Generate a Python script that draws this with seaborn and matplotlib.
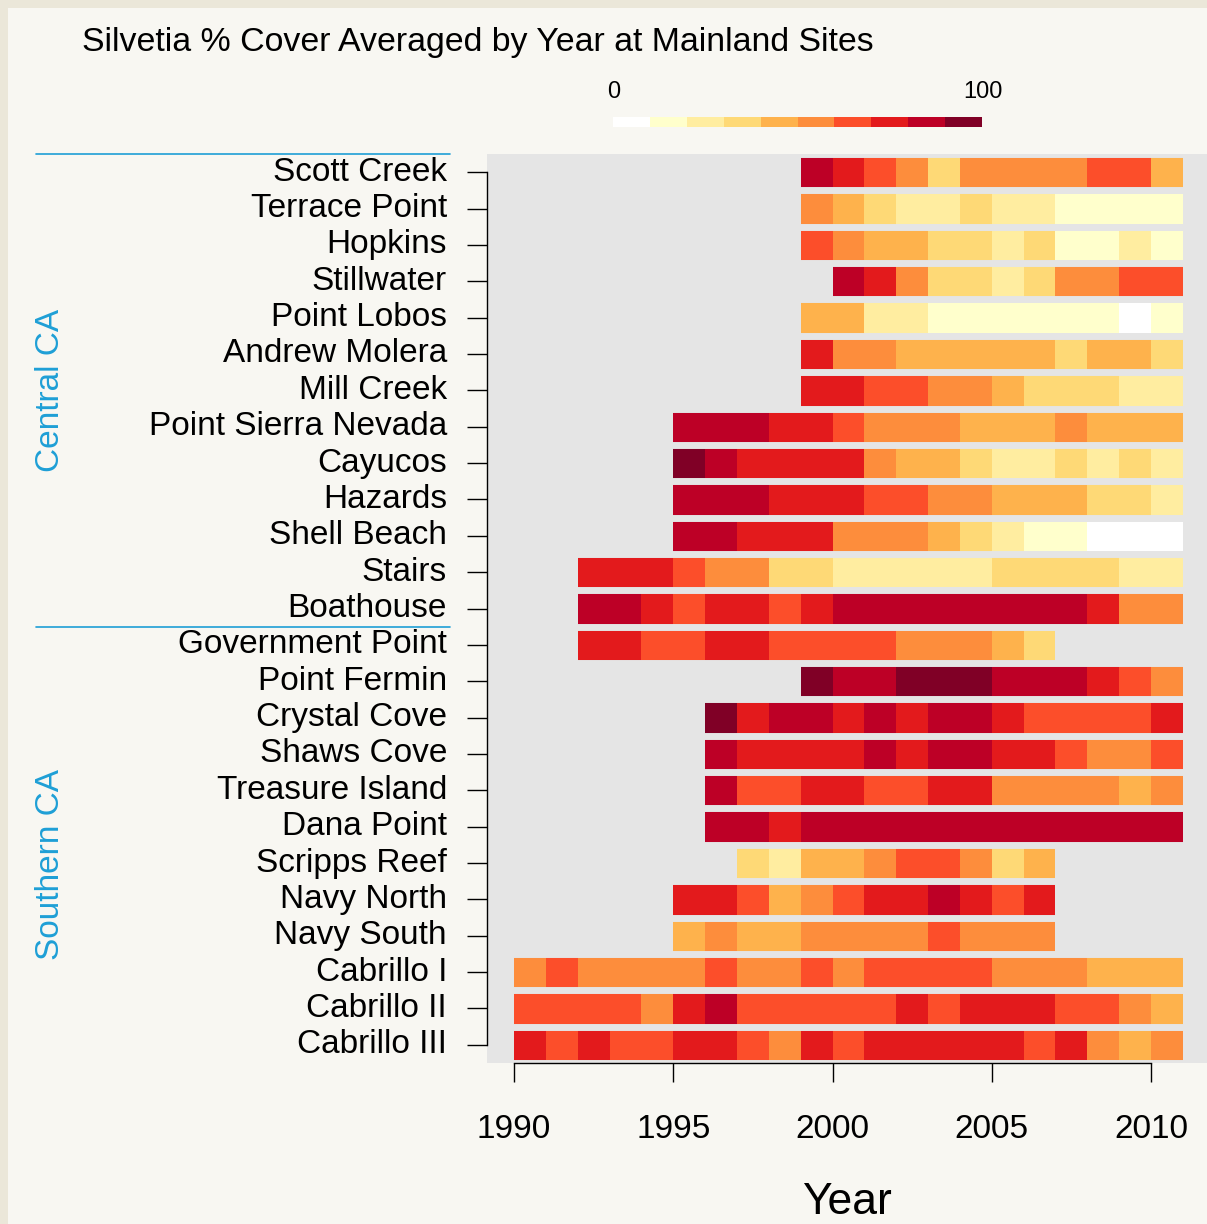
import numpy as np
import pandas as pd
import seaborn as sns
import matplotlib.pyplot as plt
from matplotlib.colors import ListedColormap
from matplotlib.lines import Line2D
from matplotlib.patches import Rectangle
from matplotlib.transforms import blended_transform_factory

# sites, top to bottom
sites = ["Scott Creek", "Terrace Point", "Hopkins", "Stillwater", "Point Lobos",
         "Andrew Molera", "Mill Creek", "Point Sierra Nevada", "Cayucos", "Hazards",
         "Shell Beach", "Stairs", "Boathouse",
         "Government Point", "Point Fermin", "Crystal Cove", "Shaws Cove",
         "Treasure Island", "Dana Point", "Scripps Reef", "Navy North", "Navy South",
         "Cabrillo I", "Cabrillo II", "Cabrillo III"]
n_central = 13

# first surveyed year for each site
start_years = [1999, 1999, 1999, 2000, 1999, 1999, 1999, 1995, 1995, 1995, 1995, 1992, 1992,
               1992, 1999, 1996, 1996, 1996, 1996, 1997, 1995, 1995, 1990, 1990, 1990]

# % cover by year
cover = [
    [85, 75, 65, 55, 35, 55, 55, 55, 55, 65, 65, 45],
    [55, 45, 35, 25, 25, 35, 25, 25, 15, 15, 15, 15],
    [65, 55, 45, 45, 35, 35, 25, 35, 15, 15, 25, 15],
    [85, 75, 55, 35, 35, 25, 35, 55, 55, 65, 65],
    [45, 45, 25, 25, 15, 15, 15, 15, 15, 15, 5, 15],
    [75, 55, 55, 45, 45, 45, 45, 45, 35, 45, 45, 35],
    [75, 75, 65, 65, 55, 55, 45, 35, 35, 35, 25, 25],
    [85, 85, 85, 75, 75, 65, 55, 55, 55, 45, 45, 45, 55, 45, 45, 45],
    [95, 85, 75, 75, 75, 75, 55, 45, 45, 35, 25, 25, 35, 25, 35, 25],
    [85, 85, 85, 75, 75, 75, 65, 65, 55, 55, 45, 45, 45, 35, 35, 25],
    [85, 85, 75, 75, 75, 55, 55, 55, 45, 35, 25, 15, 15, 5, 5, 5],
    [75, 75, 75, 65, 55, 55, 35, 35, 25, 25, 25, 25, 25, 35, 35, 35, 35, 25, 25],
    [85, 85, 75, 65, 75, 75, 65, 75, 85, 85, 85, 85, 85, 85, 85, 85, 75, 55, 55],
    [75, 75, 65, 65, 75, 75, 65, 65, 65, 65, 55, 55, 55, 45, 35],
    [95, 85, 85, 95, 95, 95, 85, 85, 85, 75, 65, 55],
    [95, 75, 85, 85, 75, 85, 75, 85, 85, 75, 65, 65, 65, 65, 75],
    [85, 75, 75, 75, 75, 85, 75, 85, 85, 75, 75, 65, 55, 55, 65],
    [85, 65, 65, 75, 75, 65, 65, 75, 75, 55, 55, 55, 55, 45, 55],
    [85, 85, 75, 85, 85, 85, 85, 85, 85, 85, 85, 85, 85, 85, 85],
    [35, 25, 45, 45, 55, 65, 65, 55, 35, 45],
    [75, 75, 65, 45, 55, 65, 75, 75, 85, 75, 65, 75],
    [45, 55, 45, 45, 55, 55, 55, 55, 65, 55, 55, 55],
    [55, 65, 55, 55, 55, 55, 65, 55, 55, 65, 55, 65, 65, 65, 65, 55, 55, 55, 45, 45, 45],
    [65, 65, 65, 65, 55, 75, 85, 65, 65, 65, 65, 65, 75, 65, 75, 75, 75, 65, 65, 55, 45],
    [75, 65, 75, 65, 65, 75, 75, 65, 55, 75, 65, 75, 75, 75, 75, 75, 65, 75, 55, 45, 55],
]

years = list(range(1990, 2011))
year_ticks = [1990, 1995, 2000, 2005, 2010]
legend_levels = [5, 15, 25, 35, 45, 55, 65, 75, 85, 95]
bin_colors = ["#FFFFFF", "#FFFFCC", "#FFEDA0", "#FED976", "#FEB24C",
              "#FD8D3C", "#FC4E2A", "#E31A1C", "#BD0026", "#800026"]

# build the site x year grid, gaps left as NaN
grid = pd.DataFrame(np.nan, index=sites, columns=years)
for site, y0, vals in zip(sites, start_years, cover):
    grid.loc[site, y0:y0 + len(vals) - 1] = vals

sns.set_theme(style="white")
plt.rcParams["font.family"] = ["Liberation Sans", "DejaVu Sans"]

W, H = 1207, 1224
fig = plt.figure(figsize=(W / 100, H / 100), dpi=100)
fig.patch.set_facecolor("#EBE7D9")
fig.patches.append(Rectangle((8 / W, 0), 1, 1 - 8 / H, transform=fig.transFigure,
                             facecolor="#F8F7F2", edgecolor="none", zorder=-10))

cmap = ListedColormap(bin_colors)
bg = "#E5E5E5"

ax = fig.add_axes([487 / W, 1 - 1063 / H, (W - 487) / W, (1063 - 154) / H])
ax.set_facecolor(bg)
sns.heatmap(grid, cmap=cmap, vmin=0, vmax=100, cbar=False, ax=ax,
            xticklabels=False, yticklabels=True)

# gaps between the rows (under the spines)
for i in range(len(sites) + 1):
    ax.axhline(i, color=bg, lw=5.0, zorder=2)

# x scale: column j covers year 1990+j
ax.set_xlim(-0.848, (W - 514) / 31.85)
ax.set_xticks([y - years[0] for y in year_ticks])
ax.set_xticklabels([str(y) for y in year_ticks], fontsize=24)
ax.set_yticks(np.arange(len(sites)) + 0.5)
ax.set_yticklabels(sites, fontsize=24, rotation=0)

ax.tick_params(axis="y", left=True, length=14.4, width=1, pad=14.4, colors="black")
ax.tick_params(axis="x", bottom=True, length=13.7, width=1, pad=23, colors="black")
for lab in ax.get_xticklabels() + ax.get_yticklabels():
    lab.set_color("black")

for side in ["top", "right"]:
    ax.spines[side].set_visible(False)
for side in ["left", "bottom"]:
    ax.spines[side].set_visible(True)
    ax.spines[side].set_color("black")
    ax.spines[side].set_linewidth(1)
    ax.spines[side].set_zorder(5)
ax.spines["left"].set_bounds(0.5, len(sites) - 0.5)
ax.spines["bottom"].set_bounds(0, year_ticks[-1] - years[0])

ax.set_xlabel("Year", fontsize=32, color="black", verticalalignment="center")
ax.xaxis.set_label_coords(0.5, -(1203 - 1063) / (1063 - 154))
ax.set_ylabel("")

# region separators and labels
trans = blended_transform_factory(fig.transFigure, ax.transData)
for yb in [0, n_central]:
    fig.lines.append(Line2D([36 / W, 450 / W], [yb, yb], transform=trans,
                            color="#1E9FD6", lw=1.2))
fig.text(51 / W, 1 - 390 / H, "Central CA", rotation=90, ha="center", va="center",
         fontsize=24, color="#1E9FD6")
fig.text(51 / W, 1 - 864 / H, "Southern CA", rotation=90, ha="center", va="center",
         fontsize=24, color="#1E9FD6")

fig.text(82 / W, 1 - 42 / H, "Silvetia % Cover Averaged by Year at Mainland Sites",
         ha="left", va="center", fontsize=24.4, color="black")

# colour key
lax = fig.add_axes([613 / W, 1 - 127 / H, (982 - 613) / W, 10 / H])
sns.heatmap(pd.DataFrame([legend_levels]), cmap=cmap, vmin=0, vmax=100, cbar=False,
            xticklabels=False, yticklabels=False, ax=lax)
fig.text(614 / W, 1 - 92 / H, "0", ha="center", va="center", fontsize=17, color="black")
fig.text(983 / W, 1 - 92 / H, "100", ha="center", va="center", fontsize=17, color="black")

fig.savefig("out.png", dpi=100, facecolor=fig.get_facecolor())
